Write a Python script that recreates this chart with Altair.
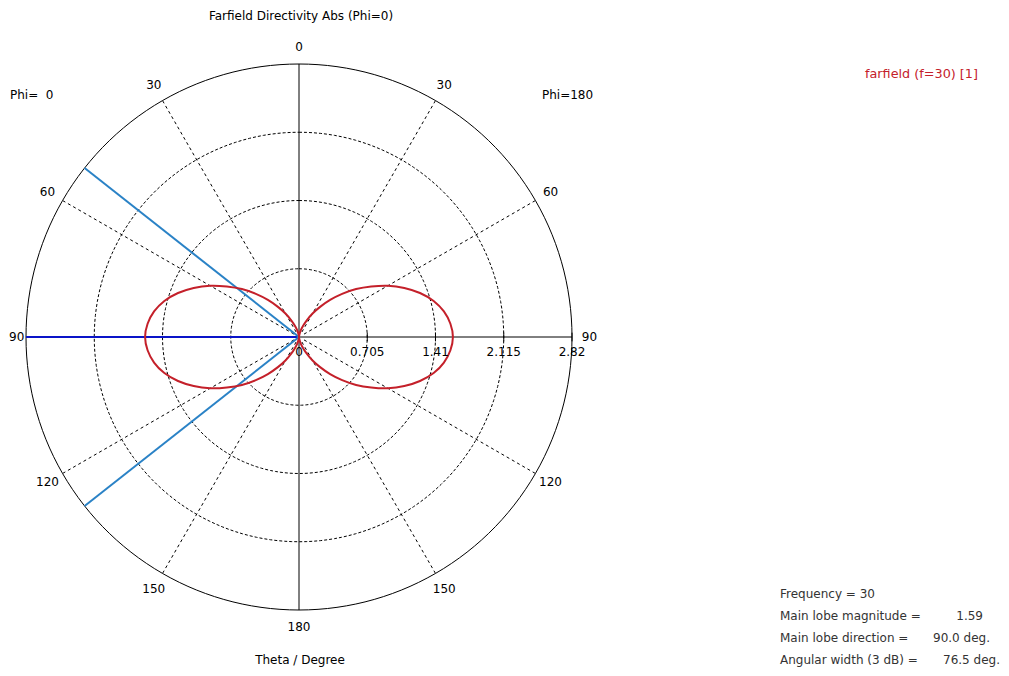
import math
import numpy as np
import pandas as pd
import altair as alt

# ---- data ----
theta_deg = [0, 5, 10, 15, 20, 25, 30, 35, 40, 45, 50, 55, 60, 65, 70, 75, 80, 85, 90,
             95, 100, 105, 110, 115, 120, 125, 130, 135, 140, 145, 150, 155, 160, 165, 170, 175, 180]
directivity_phi0 = [0.0, 0.01, 0.03, 0.07, 0.12, 0.19, 0.28, 0.38, 0.50, 0.63, 0.77, 0.91, 1.06, 1.20, 1.33, 1.44, 1.52, 1.57, 1.59,
                    1.57, 1.52, 1.44, 1.33, 1.20, 1.06, 0.91, 0.77, 0.63, 0.50, 0.38, 0.28, 0.19, 0.12, 0.07, 0.03, 0.01, 0.0]
directivity_phi180 = list(directivity_phi0)
ring_values = [0.705, 1.41, 2.115, 2.82]
ring_labels = ["0", "0.705", "1.41", "2.115", "2.82"]
ring_label_values = [0.0, 0.705, 1.41, 2.115, 2.82]
angle_ticks = [0, 30, 60, 90, 120, 150, 180]
spoke_angles = [30, 60, 120, 150]
beam_3db = [51.75, 128.25]
main_dir = [90.0]
RMAX = 2.82

info_labels = ["Frequency = 30", "Main lobe magnitude =", "Main lobe direction =", "Angular width (3 dB) ="]
info_values = ["", "1.59", "90.0 deg.", "76.5 deg."]

# ---- helpers (left half = Phi 0, right half = Phi 180) ----
def xy(r, th, side):
    a = math.radians(th)
    s = -1 if side == "left" else 1
    return s * r * math.sin(a), r * math.cos(a)

P = 10
OX = 8 + P
k = 273 / 2.82
W, H = 1009 - 16 - 2 * P, 676 - 16 - 2 * P
xmin = -(299 - OX) / k
xmax = xmin + W / k
ymax = (337 - OX) / k
ymin = ymax - H / k
xs = alt.Scale(domain=[xmin, xmax], nice=False, zero=False)
ys = alt.Scale(domain=[ymin, ymax], nice=False, zero=False)
X = lambda f: alt.X(f, type="quantitative", scale=xs, axis=None)
Y = lambda f: alt.Y(f, type="quantitative", scale=ys, axis=None)

FONT = "DejaVu Sans"

# rings
rows = []
for rv in ring_values:
    for i, a in enumerate(range(0, 361, 2)):
        x, y = xy(rv, a, "right")
        rows.append({"ring": rv, "i": i, "x": x, "y": y})
rings = pd.DataFrame(rows)
inner = alt.Chart(rings[rings.ring < RMAX]).mark_line(color="black", strokeWidth=1, strokeDash=[3, 2]).encode(
    x=X("x"), y=Y("y"), detail="ring:N", order="i:Q")
outer = alt.Chart(rings[rings.ring == RMAX]).mark_line(color="black", strokeWidth=1).encode(
    x=X("x"), y=Y("y"), order="i:Q")

# spokes
sp = []
for side in ["left", "right"]:
    for a in spoke_angles:
        x0, y0 = xy(0.06, a, side)
        x1, y1 = xy(RMAX, a, side)
        sp.append({"x": x0, "y": y0, "x2": x1, "y2": y1})
spokes = alt.Chart(pd.DataFrame(sp)).mark_rule(color="black", strokeWidth=1, strokeDash=[3, 3]).encode(
    x=X("x"), y=Y("y"), x2="x2:Q", y2="y2:Q")

# axes
ax = pd.DataFrame([{"x": 0, "y": RMAX, "x2": 0, "y2": -RMAX},
                   {"x": -RMAX, "y": 0, "x2": RMAX, "y2": 0}])
axes = alt.Chart(ax).mark_rule(color="black", strokeWidth=1).encode(
    x=X("x"), y=Y("y"), x2="x2:Q", y2="y2:Q")
tk = pd.DataFrame({"x": ring_values, "y": [0.045] * 4, "y2": [-0.045] * 4})
ticks = alt.Chart(tk).mark_rule(color="black", strokeWidth=1).encode(
    x=X("x"), y=Y("y"), y2="y2:Q")

# blue lines
bl = []
for a in beam_3db:
    x1, y1 = xy(RMAX, a, "left")
    bl.append({"x": 0, "y": 0, "x2": x1, "y2": y1})
beams = alt.Chart(pd.DataFrame(bl)).mark_rule(color="#2a82c6", strokeWidth=2).encode(
    x=X("x"), y=Y("y"), x2="x2:Q", y2="y2:Q")
md = []
for a in main_dir:
    x1, y1 = xy(RMAX, a, "left")
    md.append({"x": 0, "y": 0, "x2": x1, "y2": y1})
mainline = alt.Chart(pd.DataFrame(md)).mark_rule(color="#0a14c8", strokeWidth=2).encode(
    x=X("x"), y=Y("y"), x2="x2:Q", y2="y2:Q")

# red pattern
cr = []
i = 0
for th, r in zip(theta_deg, directivity_phi0):
    x, y = xy(r, th, "left")
    cr.append({"i": i, "x": x, "y": y}); i += 1
for th, r in zip(theta_deg[::-1], directivity_phi180[::-1]):
    x, y = xy(r, th, "right")
    cr.append({"i": i, "x": x, "y": y}); i += 1
curve = alt.Chart(pd.DataFrame(cr)).mark_line(color="#c4202a", strokeWidth=2, interpolate="catmull-rom").encode(
    x=X("x"), y=Y("y"), order="i:Q")

# angle labels (left 90 handled separately to stay inside the page)
al = []
for a in angle_ticks:
    sides = ["right"] if a in (0, 180) else (["right"] if a == 90 else ["left", "right"])
    for s in sides:
        x, y = xy(3.0, a, s)
        al.append({"x": x, "y": y, "t": str(a)})
alabels = alt.Chart(pd.DataFrame(al)).mark_text(font=FONT, fontSize=12, color="black").encode(
    x=X("x"), y=Y("y"), text="t:N")

rl = pd.DataFrame({"x": ring_label_values, "y": [-0.155] * 5, "t": ring_labels})
rlabels = alt.Chart(rl).mark_text(font=FONT, fontSize=12, color="black").encode(
    x=X("x"), y=Y("y"), text="t:N")

one = pd.DataFrame({"a": [0]})
def txt(s, px, py, align="center", color="black", size=12):
    return alt.Chart(one).mark_text(font=FONT, fontSize=size, color=color, align=align, baseline="middle").encode(
        x=alt.value(px - OX), y=alt.value(py - OX), text=alt.value(s))

statics = [
    txt("Farfield Directivity Abs (Phi=0)", 301, 16),
    txt("90", 9, 337, align="left"),
    txt("Phi=\u00a0\u00a00", 10, 95, align="left"),
    txt("Phi=180", 542, 95, align="left"),
    txt("Theta / Degree", 300, 660),
    txt("farfield (f=30) [1]", 865, 74, align="left", color="#c4202a", size=12.8),
]
ys_info = [594, 616, 638, 660]
for lab, val, yy in zip(info_labels, info_values, ys_info):
    statics.append(txt(lab, 780, yy, align="left", color="#333333"))
val_x = {"1.59": 983, "90.0 deg.": 990, "76.5 deg.": 1000}
for val, yy in zip(info_values, ys_info):
    if val:
        statics.append(txt(val, val_x[val], yy, align="right", color="#333333"))

chart = alt.layer(inner, outer, spokes, axes, ticks, mainline, beams, curve, alabels, rlabels, *statics).properties(
    width=W, height=H, autosize=alt.AutoSizeParams(type="none"), padding=P
).configure_view(stroke=None)

chart.save("out.html", embed_options={"renderer": "svg", "actions": False})
